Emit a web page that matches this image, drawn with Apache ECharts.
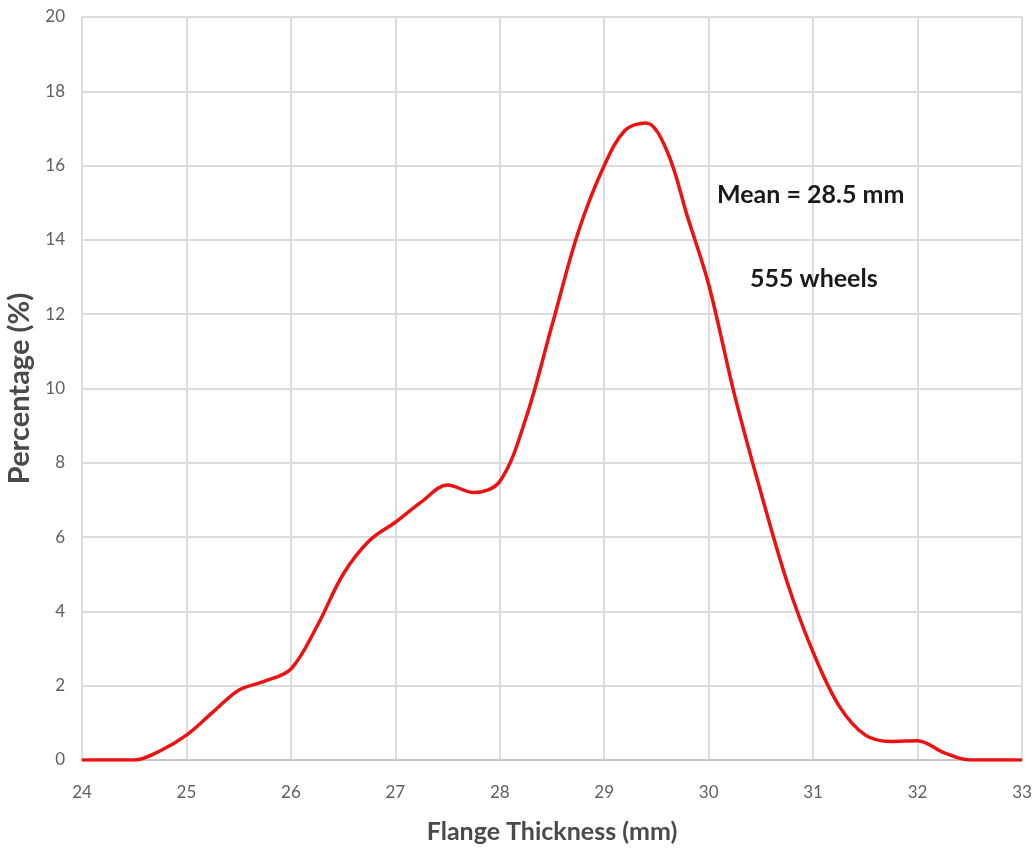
<!DOCTYPE html>
<html>
<head>
<meta charset="utf-8">
<script src="https://cdn.jsdelivr.net/npm/echarts@6/dist/echarts.min.js"></script>
<style>
  html, body { margin: 0; padding: 0; background: #fff; }
  #main { width: 1036px; height: 855px; }
</style>
</head>
<body>
<div id="main"></div>
<script>
    // flange thickness (mm) and percentage of wheels
    var thickness = [24, 24.25, 24.5, 24.75, 25, 25.25, 25.5, 25.75, 26, 26.25, 26.5, 26.75,
        27, 27.25, 27.5, 27.75, 28, 28.25, 28.5, 28.75, 29, 29.2, 29.4, 29.6, 29.8,
        30, 30.25, 30.5, 30.75, 31, 31.25, 31.5, 31.75, 32, 32.25, 32.5, 32.75, 33];
    var percentage = [0, 0, 0, 0.25, 0.67, 1.28, 1.88, 2.12, 2.45, 3.6, 5.0, 5.9,
        6.4, 6.95, 7.4, 7.2, 7.5, 9.2, 11.7, 14.2, 16.0, 16.95, 17.15, 16.4, 14.6,
        12.8, 9.8, 7.2, 4.8, 2.9, 1.45, 0.67, 0.5, 0.52, 0.2, 0, 0, 0];
    var xTicks = [24, 25, 26, 27, 28, 29, 30, 31, 32, 33];
    var yTicks = [0, 2, 4, 6, 8, 10, 12, 14, 16, 18, 20];
    var notes = ['Mean = 28.5 mm', '555 wheels'];

    var pts = [];
    for (var i = 0; i < thickness.length; i++) {
        pts.push([thickness[i], percentage[i]]);
    }

    var myChart = echarts.init(document.getElementById('main'));

    var option = {
        backgroundColor: '#fff',
        animation: false,
        textStyle: { fontFamily: 'Lato' },
        grid: {
            left: 82,
            right: 14,
            top: 17,
            bottom: 95,
            outerBoundsMode: 'none'
        },
        xAxis: {
            type: 'value',
            min: xTicks[0],
            max: xTicks[xTicks.length - 1],
            interval: 1,
            name: 'Flange Thickness (mm)',
            nameLocation: 'middle',
            nameGap: 59,
            nameTextStyle: { fontSize: 25, fontWeight: 'bold', color: '#4a4a4a' },
            axisLine: { show: true, lineStyle: { color: '#c8c8c8', width: 2 } },
            axisTick: { show: false },
            axisLabel: { fontSize: 17, color: '#606060', margin: 24 },
            splitLine: { show: true, lineStyle: { color: '#dcdcdc', width: 2 } }
        },
        yAxis: {
            type: 'value',
            min: yTicks[0],
            max: yTicks[yTicks.length - 1],
            interval: 2,
            name: 'Percentage (%)',
            nameLocation: 'middle',
            nameGap: 43,
            nameTextStyle: { fontSize: 29, fontWeight: 'bold', color: '#4a4a4a' },
            axisLine: { show: false },
            axisTick: { show: false },
            axisLabel: { fontSize: 17, color: '#606060', margin: 17 },
            splitLine: { show: true, lineStyle: { color: '#dcdcdc', width: 2 } }
        },
        graphic: [
            {
                type: 'text',
                z: 100,
                left: 717,
                top: 182,
                style: { text: notes[0], font: 'bold 25px Lato', fill: '#1a1a1a' }
            },
            {
                type: 'text',
                z: 100,
                left: 750,
                top: 266,
                style: { text: notes[1], font: 'bold 25px Lato', fill: '#1a1a1a' }
            }
        ],
        series: [
            {
                type: 'line',
                data: pts,
                smooth: 0.35,
                symbol: 'none',
                lineStyle: { color: '#ee1111', width: 3.5 }
            }
        ]
    };

    myChart.setOption(option, true);
</script>
</body>
</html>
